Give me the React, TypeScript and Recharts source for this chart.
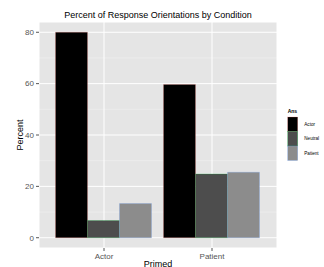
import React from 'react';
import { BarChart, Bar, XAxis, YAxis, CartesianGrid, Legend } from 'recharts';

const categories = ['Actor', 'Patient'];
const seriesNames = ['Actor', 'Neutral', 'Patient'];
const actorValues = [80, 59.7];
const neutralValues = [6.7, 24.8];
const patientValues = [13.3, 25.5];
const yTicks = [0, 20, 40, 60, 80];
const minorTicks = [10, 30, 50, 70];

const fills: Record<string, string> = { Actor: '#000000', Neutral: '#4d4d4d', Patient: '#8c8c8c' };
const outlines: Record<string, string> = { Actor: '#F8766D', Neutral: '#00BA38', Patient: '#619CFF' };

const data = categories.map((c, i) => ({
  primed: c,
  Actor: actorValues[i],
  Neutral: neutralValues[i],
  Patient: patientValues[i],
}));

const FONT = '"Liberation Sans", Arial, Helvetica, sans-serif';
const TICK = '#555555';

const renderLegend = (props: any) => {
  const payload: any[] = props.payload || [];
  return (
    <svg width={37} height={60} style={{ display: 'block', overflow: 'visible' }}>
      <text x={0.7} y={7.8} fontSize={5} fontWeight="bold" fontFamily={FONT} fill="#000">Ans</text>
      {payload.map((entry: any, i: number) => {
        const name = String(entry.value);
        return (
          <g key={name}>
            <rect x={0.7} y={12 + i * 14.5} width={10} height={14.5} fill={fills[name]} stroke={outlines[name]} strokeWidth={0.4} strokeOpacity={0.6} />
            <text x={17.3} y={20.9 + i * 14.5} fontSize={4.6} fontFamily={FONT} fill="#000">{name}</text>
          </g>
        );
      })}
    </svg>
  );
};

const applyScale = (scale: any, v: number): number | null => {
  if (!scale) return null;
  if (typeof scale === 'function') return scale(v);
  if (typeof scale.map === 'function') return scale.map(v);
  if (typeof scale.domain === 'function' && typeof scale.range === 'function') {
    const d = scale.domain();
    const r = scale.range();
    return r[0] + ((v - d[0]) / (d[1] - d[0])) * (r[1] - r[0]);
  }
  return null;
};

const minorGen = (args: any) => {
  const scale = args?.yAxis?.scale;
  const out: number[] = [];
  minorTicks.forEach((v) => {
    const p = applyScale(scale, v);
    if (typeof p === 'number' && isFinite(p)) out.push(p);
  });
  return out;
};

export default function App() {
  return (
    <div style={{ position: 'absolute', left: 0, top: 0, width: 324, height: 267, background: '#fff', fontFamily: FONT }}>
      <div style={{ position: 'absolute', left: 0, width: 316, top: 11, textAlign: 'center', fontSize: 9, lineHeight: '9px', color: '#000', whiteSpace: 'nowrap' }}>
        Percent of Response Orientations by Condition
      </div>
      <BarChart
        width={324}
        height={267}
        data={data}
        margin={{ top: 22, right: 47, bottom: 0, left: 0 }}
        barCategoryGap={5.5}
        barGap={0}
      >
        <CartesianGrid fill="#e5e5e5" stroke="#f2f2f2" strokeWidth={0.5} vertical={false} horizontalCoordinatesGenerator={minorGen} />
        <CartesianGrid stroke="#ffffff" strokeWidth={1} />
        <XAxis
          dataKey="primed"
          height={19}
          padding={{ left: 11, right: 11 }}
          axisLine={false}
          tickSize={3}
          tickMargin={2}
          tickLine={{ stroke: TICK }}
          tick={{ fontSize: 8, fill: TICK, fontFamily: FONT }}
          label={{ value: 'Primed', position: 'insideBottom', offset: 0, fontSize: 9, fill: '#000', fontFamily: FONT }}
        />
        <YAxis
          width={39}
          domain={[-4, 84]}
          ticks={yTicks}
          allowDataOverflow
          axisLine={false}
          tickSize={3}
          tickMargin={2}
          tickLine={{ stroke: TICK }}
          tick={{ fontSize: 8, fill: TICK, fontFamily: FONT }}
          label={{ value: 'Percent', angle: -90, position: 'center', fontSize: 9, fill: '#000', fontFamily: FONT }}
        />
        <Legend
          layout="vertical"
          align="center"
          verticalAlign="middle"
          content={renderLegend}
          wrapperStyle={{ position: 'absolute', left: 287, top: 105, width: 37, height: 60 }}
        />
        {seriesNames.map((s) => (
          <Bar key={s} dataKey={s} fill={fills[s]} stroke={outlines[s]} strokeWidth={0.4} strokeOpacity={0.6} isAnimationActive={false} />
        ))}
      </BarChart>
    </div>
  );
}
